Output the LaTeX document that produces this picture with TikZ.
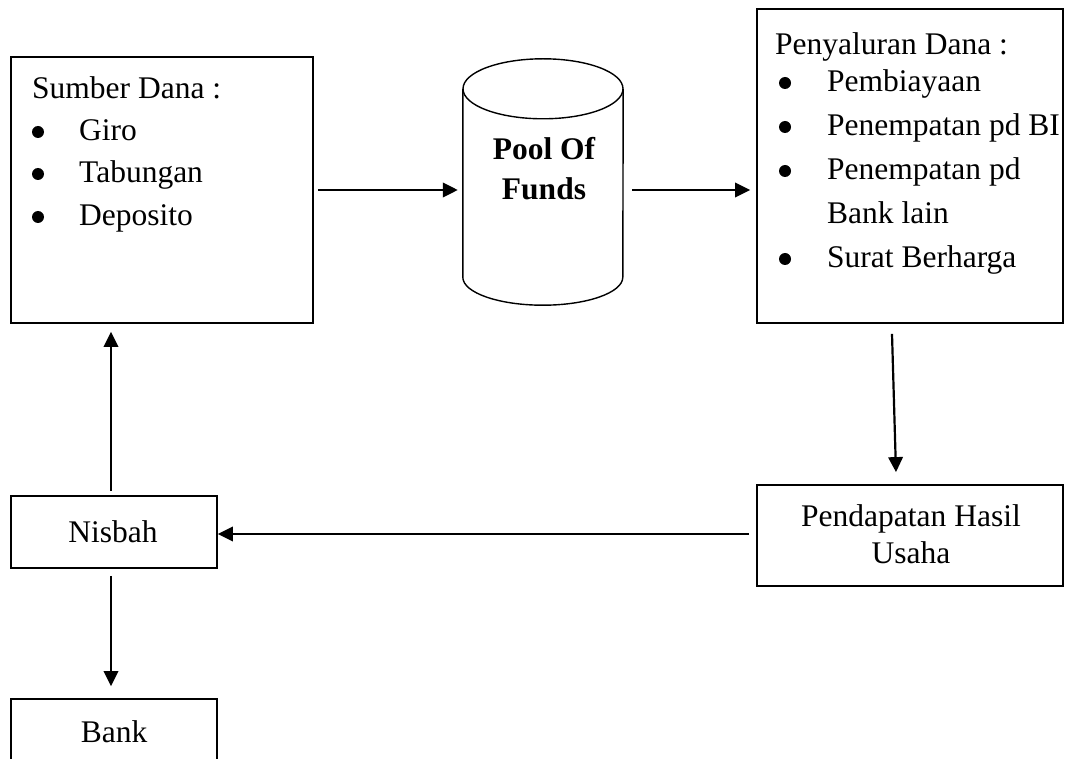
\documentclass[tikz,border=0pt]{standalone}
\usepackage{fontspec}
\setmainfont{Liberation Serif}
\usetikzlibrary{arrows.meta,calc}
\begin{document}
\begin{tikzpicture}[x=1pt,y=1pt,
  box/.style={draw, line width=1.8pt, rectangle, inner sep=0pt},
  txt/.style={inner sep=0pt, anchor=base west, font=\fontsize{31.5}{38}\selectfont},
  ctxt/.style={inner sep=0pt, anchor=base, font=\fontsize{31.5}{38}\selectfont},
  btxt/.style={inner sep=0pt, anchor=base, font=\fontsize{31.5}{38}\selectfont\bfseries},
  arr/.style={line width=2.2pt, -{Triangle[length=15pt,width=14.5pt]}},
  cyl/.style={line width=1.4pt},
  bul/.style={fill=black},
]
\useasboundingbox (0,0) rectangle (1065,-759);
\fill[white] (0,0) rectangle (1065,-759);

% boxes
\node[box, minimum width=302pt, minimum height=266pt] (sumber) at (162,-190) {};
\node[box, minimum width=306pt, minimum height=314pt] (penyaluran) at (910,-166) {};
\node[box, minimum width=306pt, minimum height=101pt] (pendapatan) at (910,-535.5) {};
\node[box, minimum width=206pt, minimum height=72pt] (nisbah) at (114,-532) {};
\node[box, minimum width=206pt, minimum height=64pt] (bank) at (114,-731) {};
\node[inner sep=0pt, minimum width=160pt, minimum height=246pt] (pool) at (543,-182) {};

% cylinder
\draw[cyl] ($(pool.north)+(0,-30)$) ellipse [x radius=80pt, y radius=30pt];
\draw[cyl] ($(pool.north west)+(0,-30)$) -- ($(pool.south west)+(0,28)$)
  arc[start angle=180, end angle=360, x radius=80pt, y radius=28pt]
  -- ($(pool.north east)+(0,-30)$);

% texts: Sumber Dana
\node[txt] (s0) at (32,-99) {Sumber Dana :};
\node[txt] (s1) at (79,-141) {Giro};
\node[txt] (s2) at (79,-183) {Tabungan};
\node[txt] (s3) at (79,-226) {Deposito};
\foreach \n in {s1,s2,s3}
  \fill[bul] ($(\n.base west)+(-41,9)$) circle (6pt);

% texts: Penyaluran Dana
\node[txt] (p0) at (775,-55) {Penyaluran Dana :};
\node[txt] (p1) at (827,-92) {Pembiayaan};
\node[txt] (p2) at (827,-136) {Penempatan pd BI};
\node[txt] (p3) at (827,-180) {Penempatan pd};
\node[txt] (p4) at (827,-224) {Bank lain};
\node[txt] (p5) at (827,-268) {Surat Berharga};
\foreach \n in {p1,p2,p3,p5}
  \fill[bul] ($(\n.base west)+(-42,9)$) circle (6pt);

% pool text
\node[btxt] (f1) at (544,-160) {Pool Of};
\node[btxt] (f2) at (544,-200) {Funds};

% other texts
\node[ctxt] (h1) at (911,-526) {Pendapatan Hasil};
\node[ctxt] (h2) at (911,-563) {Usaha};
\node[ctxt] (n1) at (113,-542) {Nisbah};
\node[ctxt] (k1) at (114,-742) {Bank};

% connectors
\draw[arr] ($(sumber.east)+(4,0)$) coordinate (a1s) -- ($(pool.west |- a1s)+(-5,0)$);
\draw[arr] ($(pool.east |- sumber.east)+(9,0)$) coordinate (a2s) -- ($(penyaluran.west |- a2s)+(-6,0)$);
\draw[arr] ($(penyaluran.south)+(-18,-10)$) -- ($(pendapatan.north)+(-14,12)$);
\draw[arr] ($(pendapatan.west)+(-7,1.5)$) coordinate (a4s) -- (nisbah.east |- a4s);
\draw[arr] ($(nisbah.north)+(-3,4)$) coordinate (a5s) -- ($(sumber.south -| a5s)+(0,-8)$);
\draw[arr] ($(nisbah.south)+(-3,-7)$) coordinate (a6s) -- ($(bank.north -| a6s)+(0,12)$);
\end{tikzpicture}
\end{document}
